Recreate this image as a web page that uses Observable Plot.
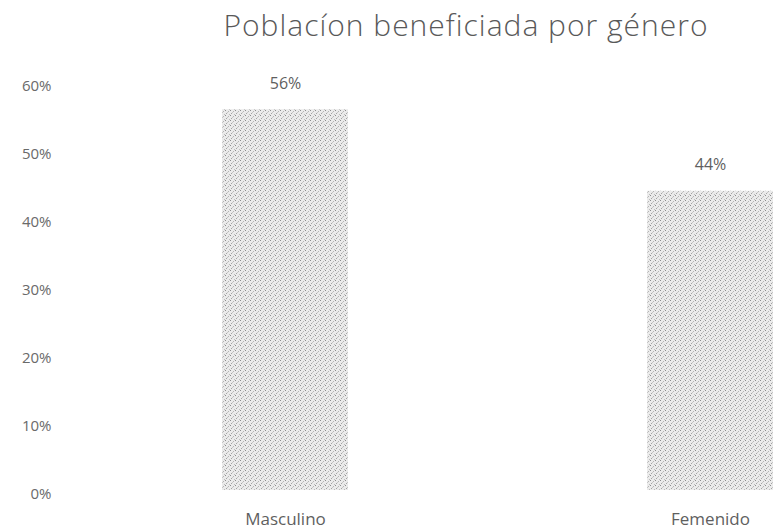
<!DOCTYPE html>
<html>
<head>
<meta charset="utf-8">
<script src="https://cdn.jsdelivr.net/npm/d3@7"></script>
<script src="https://cdn.jsdelivr.net/npm/@observablehq/plot@0.6"></script>
<style>
  html, body { margin: 0; padding: 0; background: #fff; overflow: hidden; }
  #title { width: 774px; height: 50px; line-height: 50px; box-sizing: border-box; padding-left: 158px;
           text-align: center; font-family: "Open Sans", sans-serif; font-weight: 300; font-size: 30px; letter-spacing: 1px; color: #595959; white-space: nowrap; }
  svg { overflow: hidden; }
</style>
</head>
<body>
<div id="title">Poblacíon beneficiada por género</div>
<div id="chart"></div>
<script>
const categories = ["Masculino", "Femenido"];
const values = [0.56, 0.44];
const valueLabels = ["56%", "44%"];
const yTicks = [0, 0.1, 0.2, 0.3, 0.4, 0.5, 0.6];

const data = categories.map((c, i) => ({ category: c, value: values[i], label: valueLabels[i] }));

const chart = Plot.plot({
  width: 774,
  height: 482,
  marginTop: 32,
  marginBottom: 42,
  marginLeft: 51,
  marginRight: 0,
  style: { fontFamily: "Open Sans, sans-serif", color: "#666", background: "#fff" },
  x: { domain: categories, range: [-77, 1072], padding: 0.7035, label: null },
  y: { domain: [0, 0.6], label: null },
  marks: [
    Plot.barY(data, { x: "category", y: "value", fill: "url(#stipple)" }),
    Plot.text(data, { x: "category", y: "value", text: "label", dy: -26, fontSize: 16, fill: "#5f5f5f", style: "letter-spacing:1px" }),
    Plot.axisY({ ticks: yTicks, tickFormat: d => Math.round(d * 100) + "%", tickSize: 0, tickPadding: 0, dy: 4, fontSize: 15, fill: "#6a6a6a" }),
    Plot.axisX({ tickSize: 0, tickPadding: 22, fontSize: 17, fill: "#5f5f5f" })
  ]
});

// stipple pattern for bars
const ns = "http://www.w3.org/2000/svg";
const defs = document.createElementNS(ns, "defs");
const pat = document.createElementNS(ns, "pattern");
pat.setAttribute("id", "stipple");
pat.setAttribute("width", "5");
pat.setAttribute("height", "5");
pat.setAttribute("patternUnits", "userSpaceOnUse");
const bg = document.createElementNS(ns, "rect");
bg.setAttribute("width", "5"); bg.setAttribute("height", "5"); bg.setAttribute("fill", "#ebebeb");
pat.appendChild(bg);
[[0,0,"#8c8c8c"],[3,1,"#b4b4b4"],[1,3,"#a4a4a4"],[4,4,"#bcbcbc"],[2,2,"#c6c6c6"]].forEach(([x,y,c]) => {
  const r = document.createElementNS(ns, "rect");
  r.setAttribute("x", x); r.setAttribute("y", y); r.setAttribute("width", 1); r.setAttribute("height", 1); r.setAttribute("fill", c);
  pat.appendChild(r);
});
defs.appendChild(pat);
chart.insertBefore(defs, chart.firstChild);

document.getElementById("chart").appendChild(chart);
</script>
</body>
</html>
